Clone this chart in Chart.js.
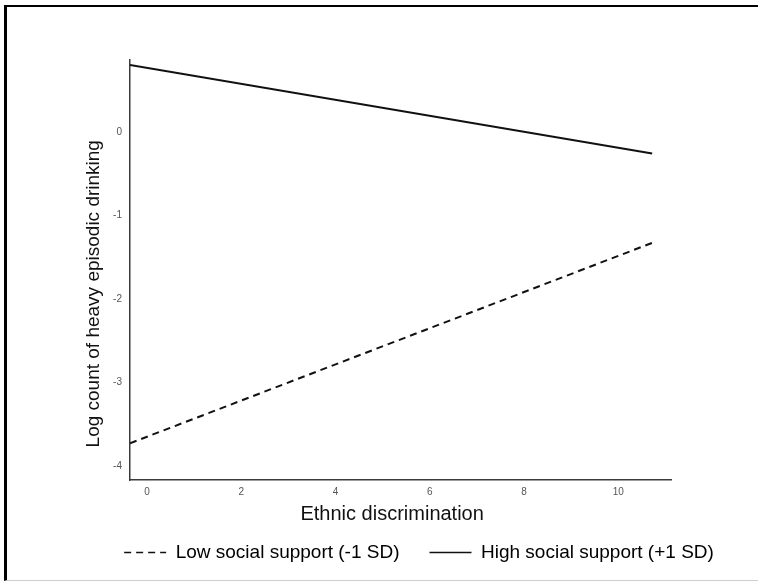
<!DOCTYPE html>
<html>
<head>
<meta charset="utf-8">
<title>Ethnic discrimination and heavy episodic drinking</title>
<script src="https://cdn.jsdelivr.net/npm/chart.js@4/dist/chart.umd.min.js"></script>
<style>
    html, body {
        margin: 0;
        padding: 0;
        background: #fff;
    }
    #frame {
        position: absolute;
        left: 4px;
        top: 5px;
        width: 751px;
        height: 573px;
        border-left: 3px solid #000;
        border-top: 2px solid #000;
        border-bottom: 1px solid #cfcfcf;
    }
    #wrap {
        position: absolute;
        left: 0;
        top: 0;
        width: 760px;
        height: 581px;
    }
</style>
</head>
<body>
<div id="frame"></div>
<div id="wrap"><canvas id="chart-1"></canvas></div>
<script>
// Dữ liệu: hai đường hồi quy (điểm đầu / điểm cuối)
const discrimination = [-0.36, 10.72];
const lowSupport = [-3.73, -1.33];   // -1 SD
const highSupport = [0.80, -0.26];   // +1 SD
const seriesLabels = ['Low social support (-1 SD)', 'High social support (+1 SD)'];

const FONT = '"Liberation Sans", Arial, sans-serif';
// khoảng trắng không ngắt để dịch tiêu đề trục lệch khỏi tâm như hình gốc
const NBSP = '\u00a0';

function toPoints(xs, ys) {
    return xs.map((x, i) => ({x: x, y: ys[i]}));
}

function createInteractionChart() {
    const ctx = document.getElementById('chart-1').getContext('2d');

    new Chart(ctx, {
        type: 'line',
        data: {
            datasets: [{
                label: seriesLabels[0],
                data: toPoints(discrimination, lowSupport),
                borderColor: '#111',
                borderWidth: 2,
                borderDash: [7, 5],
                pointRadius: 0,
                fill: false
            }, {
                label: seriesLabels[1],
                data: toPoints(discrimination, highSupport),
                borderColor: '#111',
                borderWidth: 2,
                pointRadius: 0,
                fill: false
            }]
        },
        options: {
            responsive: true,
            maintainAspectRatio: false,
            animation: false,
            layout: {
                padding: {left: 80, right: 2, top: 60, bottom: 9}
            },
            plugins: {
                tooltip: {enabled: false},
                legend: {
                    position: 'bottom',
                    labels: {
                        usePointStyle: true,
                        pointStyleWidth: 42,
                        boxHeight: 2,
                        padding: 30,
                        color: '#111',
                        font: {family: FONT, size: 19},
                        generateLabels: function (chart) {
                            return chart.data.datasets.map((ds, i) => ({
                                text: ds.label,
                                pointStyle: 'line',
                                strokeStyle: '#111',
                                fillStyle: '#111',
                                lineWidth: 1.5,
                                lineDash: ds.borderDash || [],
                                datasetIndex: i
                            }));
                        }
                    }
                }
            },
            scales: {
                x: {
                    type: 'linear',
                    min: -0.36,
                    max: 11.12,
                    grid: {display: false, drawTicks: false},
                    border: {display: true, color: '#3a3a3a', width: 1.5},
                    ticks: {
                        stepSize: 2,
                        includeBounds: false,
                        padding: 6,
                        color: '#555',
                        font: {family: FONT, size: 10}
                    },
                    title: {
                        display: true,
                        text: 'Ethnic discrimination' + NBSP.repeat(3),
                        color: '#111',
                        font: {family: FONT, size: 20},
                        padding: {top: -2, bottom: -13}
                    }
                },
                y: {
                    min: -4.17,
                    max: 0.86,
                    grid: {display: false, drawTicks: false},
                    border: {display: true, color: '#3a3a3a', width: 1.5},
                    ticks: {
                        stepSize: 1,
                        includeBounds: false,
                        padding: 8,
                        color: '#555',
                        font: {family: FONT, size: 10}
                    },
                    title: {
                        display: true,
                        text: 'Log count of heavy episodic drinking' + NBSP.repeat(9),
                        color: '#111',
                        font: {family: FONT, size: 19},
                        padding: {top: 2, bottom: 2}
                    },
                    afterFit: function (scale) {
                        scale.width = 50;
                    }
                },
                // trục phụ bên phải chỉ để giữ khoảng trống
                y2: {
                    position: 'right',
                    grid: {display: false},
                    border: {display: false},
                    ticks: {display: false},
                    afterFit: function (scale) {
                        scale.width = 87;
                    }
                }
            }
        }
    });
}

document.addEventListener('DOMContentLoaded', function () {
    createInteractionChart();
});
</script>
</body>
</html>
